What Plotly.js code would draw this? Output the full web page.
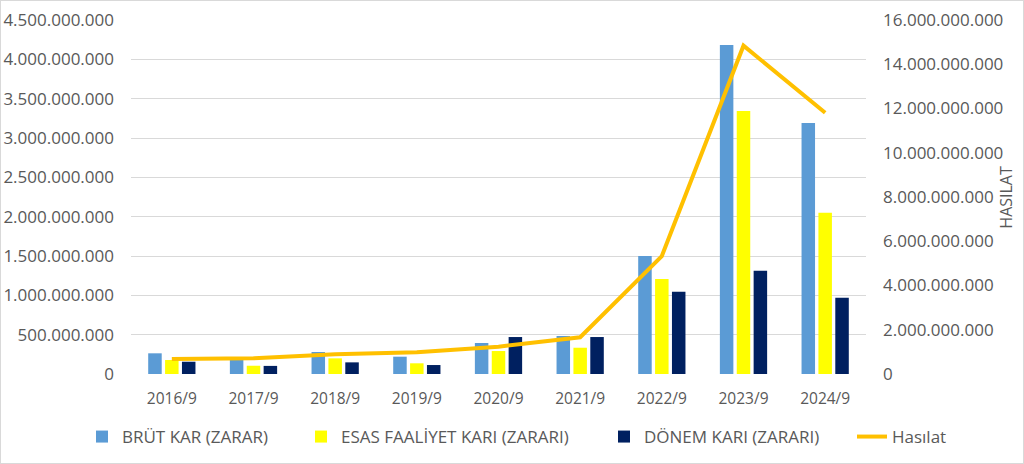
<!DOCTYPE html>
<html>
<head>
<meta charset="utf-8">
<script src="https://cdn.plot.ly/plotly-3.0.1.min.js"></script>
<style>
  html, body { margin: 0; padding: 0; background: #fff; }
  #chart { width: 1024px; height: 464px; box-sizing: border-box; border: 1px solid #d9d9d9; }
</style>
</head>
<body>
<div id="chart"></div>
<script>
// periods
var years = ['2016/9', '2017/9', '2018/9', '2019/9', '2020/9', '2021/9', '2022/9', '2023/9', '2024/9'];

// left axis (TL)
var brutKar = [263e6, 187e6, 280e6, 220e6, 394e6, 483e6, 1500e6, 4182e6, 3190e6];
var esasFaaliyet = [178e6, 105e6, 199e6, 136e6, 292e6, 334e6, 1207e6, 3343e6, 2050e6];
var donemKari = [156e6, 103e6, 148e6, 114e6, 470e6, 470e6, 1046e6, 1313e6, 970e6];

// right axis (TL)
var hasilat = [680e6, 710e6, 890e6, 980e6, 1235e6, 1660e6, 5330e6, 14840e6, 11810e6];

var grey = '#595959';
var fnt = 'Open Sans, Liberation Sans, sans-serif';

var traces = [
  {x: years, y: brutKar, type: 'bar', name: 'BRÜT KAR (ZARAR)', marker: {color: '#5B9BD5'}, legend: 'legend'},
  {x: years, y: esasFaaliyet, type: 'bar', name: 'ESAS FAALİYET KARI (ZARARI)', marker: {color: '#FFFF00'}, legend: 'legend2'},
  {x: years, y: donemKari, type: 'bar', name: 'DÖNEM KARI (ZARARI)', marker: {color: '#002060'}, legend: 'legend3'},
  {x: years, y: hasilat, type: 'scatter', mode: 'lines', name: 'Hasılat', yaxis: 'y2',
   line: {color: '#FFC000', width: 4}, legend: 'legend4'}
];

// one small legend per entry so the spacing follows the original
function leg(px) {
  return {orientation: 'h', x: (px - 131) / 735, xanchor: 'left', y: -0.178, yanchor: 'middle',
          font: {size: 17, color: grey}, itemwidth: 30, bgcolor: 'rgba(0,0,0,0)'};
}

var layout = {
  width: 1022, height: 462,
  margin: {l: 130, r: 157, t: 19, b: 89, autoexpand: false},
  paper_bgcolor: '#fff', plot_bgcolor: '#fff',
  separators: ',.',
  font: {family: fnt, size: 15, color: grey},
  barmode: 'group', bargap: 0.38, bargroupgap: 0.2,
  showlegend: true,
  legend: leg(82), legend2: leg(301), legend3: leg(604), legend4: leg(852),
  xaxis: {type: 'category', showgrid: false, zeroline: false, showline: false, ticks: '',
          automargin: false, ticklabelstandoff: 13, tickfont: {size: 15.5, color: grey}},
  yaxis: {range: [0, 4.5e9], dtick: 5e8, tickformat: ',d', showgrid: true, gridcolor: '#d9d9d9',
          gridwidth: 1, zeroline: false, showline: false, ticks: '', ticklabelstandoff: 16,
          automargin: false, tickfont: {size: 17, color: grey}},
  yaxis2: {overlaying: 'y', side: 'right', range: [0, 16e9], dtick: 2e9, tickformat: ',d',
           showgrid: false, zeroline: false, showline: false, ticks: '', ticklabelstandoff: 16,
           automargin: false, tickfont: {size: 17, color: grey}},
  annotations: [{text: 'HASILAT', xref: 'paper', yref: 'paper', x: 1.19, y: 0.5, textangle: -90,
                 showarrow: false, xanchor: 'center', yanchor: 'middle',
                 font: {size: 16, color: grey}}]
};

Plotly.newPlot('chart', traces, layout, {displayModeBar: false, staticPlot: true});
</script>
</body>
</html>
